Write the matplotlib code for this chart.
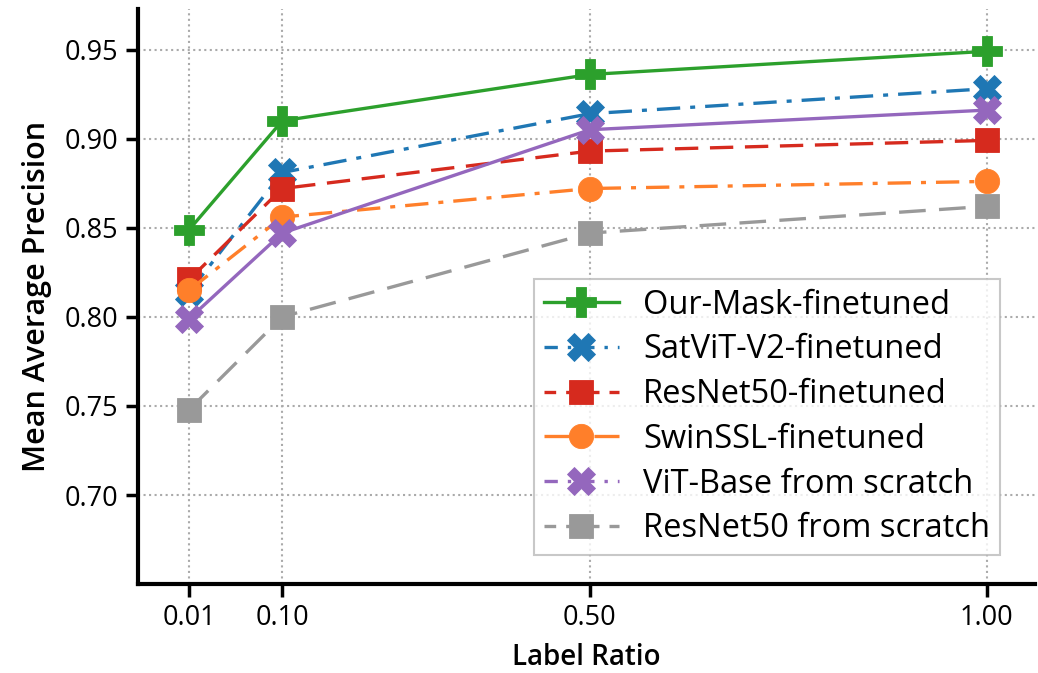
import numpy as np
import matplotlib.pyplot as plt
from matplotlib.lines import Line2D

plt.rcParams['font.family'] = ['Open Sans', 'DejaVu Sans']

# 데이터
label_ratio = [0.01, 0.10, 0.50, 1.00]
tick_labels = ['0.01', '0.10', '0.50', '1.00']

our_mask = [0.849, 0.910, 0.936, 0.949]
satvit_v2 = [0.814, 0.881, 0.914, 0.928]
resnet50_ft = [0.821, 0.872, 0.893, 0.899]
swinssl_ft = [0.815, 0.856, 0.872, 0.876]
vit_scratch = [0.799, 0.847, 0.905, 0.916]
resnet50_scratch = [0.748, 0.800, 0.847, 0.862]

# x축 간격 (원본 그림의 간격을 흉내내는 구간별 선형 스케일)
anchor_x = np.array(label_ratio)
anchor_u = np.array([0.0, 93.0, 400.7, 797.4])


def fwd(x):
    x = np.asarray(x, dtype=float)
    u = np.interp(x, anchor_x, anchor_u)
    lo = (anchor_u[1] - anchor_u[0]) / (anchor_x[1] - anchor_x[0])
    hi = (anchor_u[-1] - anchor_u[-2]) / (anchor_x[-1] - anchor_x[-2])
    u = np.where(x < anchor_x[0], anchor_u[0] + (x - anchor_x[0]) * lo, u)
    u = np.where(x > anchor_x[-1], anchor_u[-1] + (x - anchor_x[-1]) * hi, u)
    return u


def inv(u):
    u = np.asarray(u, dtype=float)
    x = np.interp(u, anchor_u, anchor_x)
    lo = (anchor_x[1] - anchor_x[0]) / (anchor_u[1] - anchor_u[0])
    hi = (anchor_x[-1] - anchor_x[-2]) / (anchor_u[-1] - anchor_u[-2])
    x = np.where(u < anchor_u[0], anchor_x[0] + (u - anchor_u[0]) * lo, x)
    x = np.where(u > anchor_u[-1], anchor_x[-1] + (u - anchor_u[-1]) * hi, x)
    return x


# 이름, 값, 색, 선 스타일, 마커, 마커 크기, 범례 선 스타일
series = [
    ('Our-Mask-finetuned', our_mask, '#2ca02c', '-', 'P', 21, '-'),
    ('SatViT-V2-finetuned', satvit_v2, '#1f77b4', (0, (7, 3, 1.5, 3)), 'X', 20, (0, (4, 3, 1, 3))),
    ('ResNet50-finetuned', resnet50_ft, '#d62a1e', (0, (7, 3.5)), 's', 17.5, (0, (3.5, 3))),
    ('SwinSSL-finetuned', swinssl_ft, '#ff7f2a', (0, (7, 3, 1.5, 3)), 'o', 17.5, (0, (8, 3, 1, 3))),
    ('ViT-Base from scratch', vit_scratch, '#9467bd', '-', 'X', 20, (0, (4, 3, 1, 3))),
    ('ResNet50 from scratch', resnet50_scratch, '#999999', (0, (8, 4)), 's', 17.5, (0, (3.5, 3))),
]

fig = plt.figure(figsize=(10.38, 6.73), dpi=100)
ax = fig.add_axes([0.133, 0.132, 0.864, 0.854])
ax.set_xscale('function', functions=(fwd, inv))

handles = []
for name, vals, color, ls, mk, ms, leg_ls in series:
    ax.plot(label_ratio, vals, color=color, linestyle=ls, linewidth=2.4,
            marker=mk, markersize=ms, markeredgecolor=color, markeredgewidth=0.6,
            zorder=3)
    handles.append(Line2D([], [], color=color, linestyle=leg_ls, linewidth=2.4,
                          marker=mk, markersize=ms, markeredgecolor=color,
                          markeredgewidth=0.6, label=name))

ax.set_xlim(-0.0396, 1.061)
ax.set_ylim(0.65, 0.9725)
ax.set_xticks(label_ratio)
ax.set_xticklabels(tick_labels)
ax.set_yticks([0.70, 0.75, 0.80, 0.85, 0.90, 0.95])
ax.set_yticklabels(['0.70', '0.75', '0.80', '0.85', '0.90', '0.95'])

ax.grid(True, linestyle=':', color='#aaaaaa', linewidth=1.5)
ax.set_axisbelow(True)

for side in ['top', 'right']:
    ax.spines[side].set_visible(False)
for side in ['left', 'bottom']:
    ax.spines[side].set_linewidth(3)
ax.tick_params(axis='both', length=9, width=2.5, labelsize=19.5, pad=5)

ax.set_xlabel('Label Ratio', fontsize=20, fontweight='semibold', labelpad=8)
ax.set_ylabel('Mean Average Precision', fontsize=22, fontweight='semibold', labelpad=9)

leg = ax.legend(handles=handles, loc='lower right', bbox_to_anchor=(0.961, 0.0505),
                borderaxespad=0, fontsize=23.5, fancybox=False, handlelength=2.3,
                labelspacing=0.36, handletextpad=0.75, borderpad=0.3)
leg.get_frame().set_edgecolor('#bbbbbb')
leg.get_frame().set_linewidth(1.5)

plt.savefig('out.png', dpi=100)
